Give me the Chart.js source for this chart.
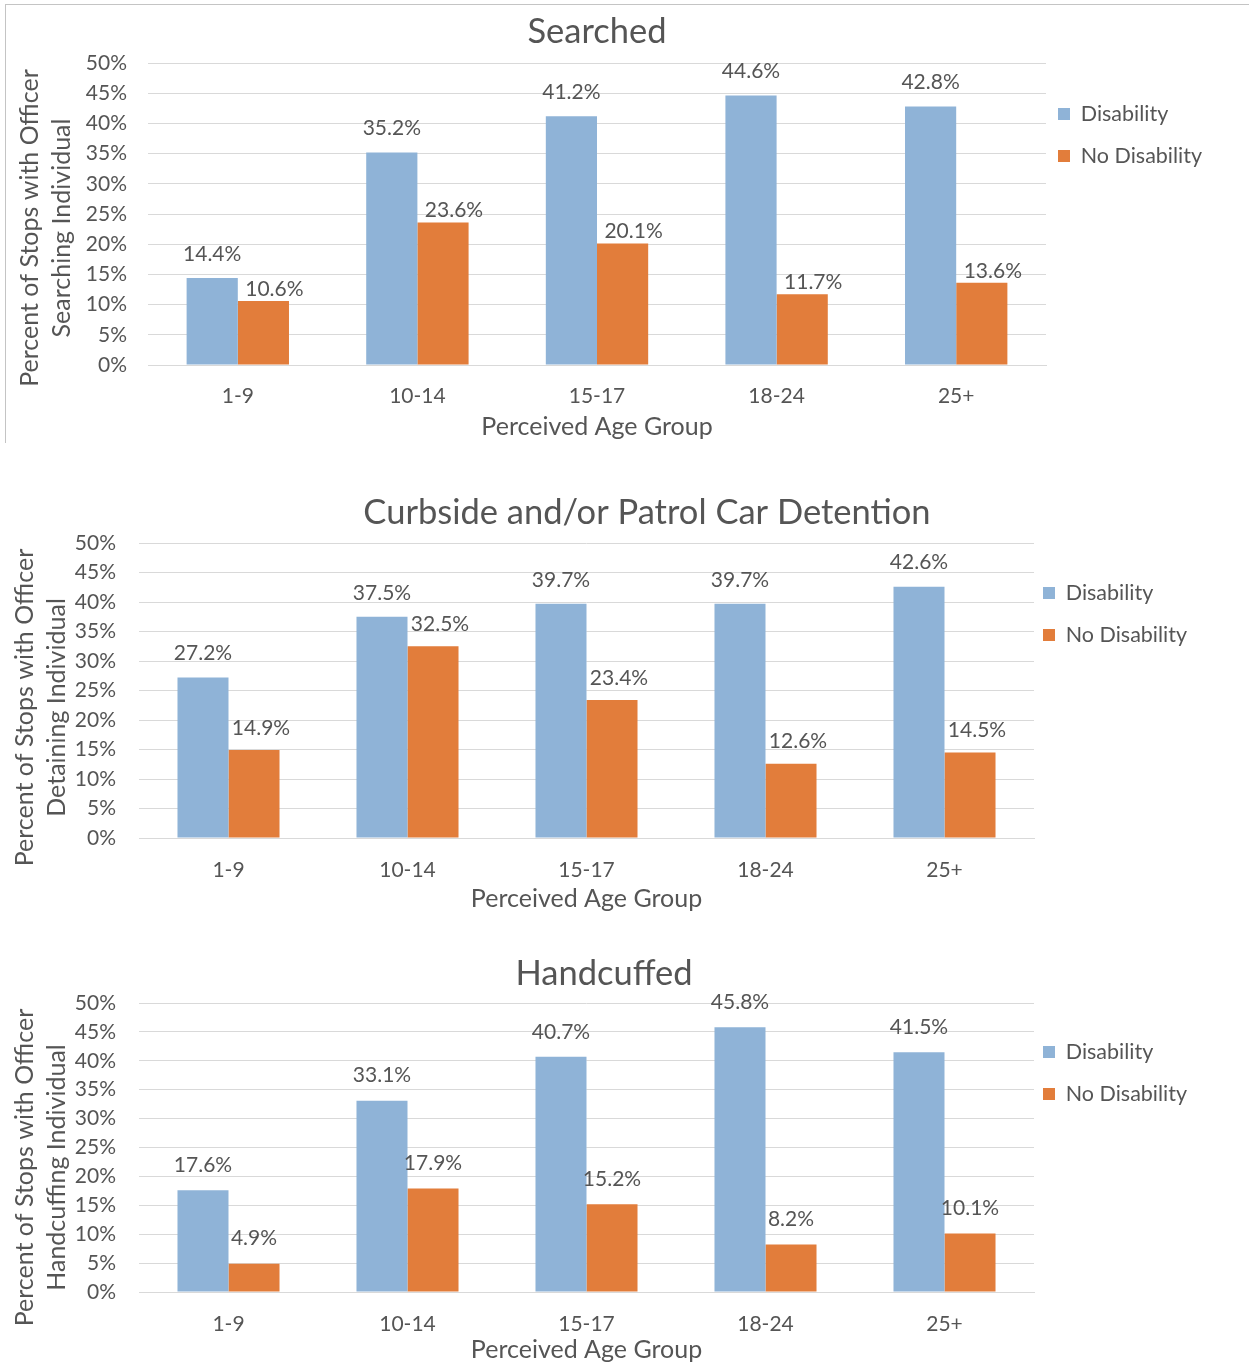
<!DOCTYPE html>
<html>
<head>
<title>Stops by Perceived Age Group and Disability</title>
<style>
    html, body { margin: 0; padding: 0; background: #fff; overflow: hidden; }
    body { width: 1249px; height: 1364px; position: relative; }
    .chartBox { position: absolute; }
    #box1 { left: 5px; top: 4px; border-top: 1px solid #c4c4c4; border-left: 1px solid #c4c4c4; }
    #box2 { left: 0; top: 460px; }
    #box3 { left: 0; top: 920px; }
    canvas { display: block; }
</style>
<script src="https://cdn.jsdelivr.net/npm/chart.js"></script>
<script>
    // values
    const ageGroups = ["1-9", "10-14", "15-17", "18-24", "25+"];
    const seriesNames = ["Disability", "No Disability"];

    const searchedDisability = [14.4, 35.2, 41.2, 44.6, 42.8];
    const searchedNoDisability = [10.6, 23.6, 20.1, 11.7, 13.6];

    const detainedDisability = [27.2, 37.5, 39.7, 39.7, 42.6];
    const detainedNoDisability = [14.9, 32.5, 23.4, 12.6, 14.5];

    const handcuffedDisability = [17.6, 33.1, 40.7, 45.8, 41.5];
    const handcuffedNoDisability = [4.9, 17.9, 15.2, 8.2, 10.1];

    const yMin = 0;
    const yMax = 50;
    const yStep = 5;

    const BLUE = "#8fb3d7";
    const ORANGE = "#e27d3b";
    const TEXT = "#555555";
    const GRID = "#d9d9d9";

    Chart.defaults.font.family = "Lato, 'Open Sans', sans-serif";
    Chart.defaults.color = TEXT;

    // draws the "14.4%" style labels above each bar
    const barValueLabels = {
        id: "barValueLabels",
        afterDatasetsDraw(chart, args, opts) {
            const ctx = chart.ctx;
            ctx.save();
            ctx.font = opts.size + "px Lato, 'Open Sans', sans-serif";
            ctx.fillStyle = TEXT;
            ctx.textAlign = "center";
            ctx.textBaseline = "middle";
            chart.data.datasets.forEach((ds, di) => {
                chart.getDatasetMeta(di).data.forEach((bar, i) => {
                    ctx.fillText(ds.data[i].toFixed(1) + "%", bar.x + opts.dx[di], bar.y - opts.dy[di]);
                });
            });
            ctx.restore();
        }
    };

    // small shifts of the title, legend and y-axis title after layout
    const nudgeBlocks = {
        id: "nudgeBlocks",
        afterLayout(chart, args, opts) {
            const t = chart.titleBlock;
            if (t) { t.left += opts.titleDx; t.right += opts.titleDx; }
            const lg = chart.legend;
            if (lg) {
                lg.left += opts.legendDx; lg.right += opts.legendDx;
                lg.top += opts.legendDy; lg.bottom += opts.legendDy;
            }
            const ys = chart.scales.y;
            if (ys && !ys._titleShifted) {
                const orig = ys.drawTitle;
                ys.drawTitle = function () {
                    this.ctx.save();
                    this.ctx.translate(0, opts.yTitleDy);
                    orig.call(this);
                    this.ctx.restore();
                };
                ys._titleShifted = true;
            }
        }
    };

    function makeChart(id, title, yTitle, dis, noDis, look) {
        const canvas = document.getElementById(id);
        canvas.width = look.w;
        canvas.height = look.h;

        const titleSize = 34.5, titleLH = titleSize * 1.2;
        const tickSize = 21;
        const axisTitleSize = 25;
        const legendSize = 21.5, legendPad = 20.5;
        const plotCenter = (look.plotL + look.plotR) / 2;
        const titlePadTop = look.titleY - titleLH / 2;

        const cfg = {
            type: "bar",
            data: {
                labels: ageGroups,
                datasets: [
                    { label: seriesNames[0], data: dis, backgroundColor: BLUE },
                    { label: seriesNames[1], data: noDis, backgroundColor: ORANGE }
                ]
            },
            options: {
                responsive: false,
                animation: false,
                layout: { padding: { left: 0, top: 0, bottom: 0, right: 150 } },
                datasets: { bar: { categoryPercentage: 0.57, barPercentage: 1.0 } },
                scales: {
                    x: {
                        grid: { display: false },
                        border: { display: true, color: GRID },
                        ticks: { font: { size: tickSize }, padding: look.xTickY - look.plotB - tickSize * 0.6 - 7 },
                        title: {
                            display: true, text: "Perceived Age Group",
                            font: { size: axisTitleSize },
                            padding: { top: 0, bottom: (look.h - look.xTitleY) - axisTitleSize * 0.6 }
                        },
                        afterFit: s => { s.height = look.h - look.plotB; }
                    },
                    y: {
                        min: yMin, max: yMax,
                        ticks: {
                            stepSize: yStep,
                            font: { size: tickSize },
                            padding: look.plotL - look.tickEndX,
                            callback: v => v + "%"
                        },
                        grid: { color: GRID, drawTicks: false },
                        border: { display: false },
                        title: {
                            display: true, text: yTitle,
                            font: { size: axisTitleSize, lineHeight: 32 / axisTitleSize },
                            padding: { top: look.yTitleX - 16, bottom: 0 }
                        },
                        afterFit: s => { s.width = look.plotL; }
                    }
                },
                plugins: {
                    title: {
                        display: true, text: title, fullSize: false,
                        font: { size: titleSize, weight: "normal" },
                        color: TEXT,
                        padding: { top: titlePadTop, bottom: look.plotT - titleLH - titlePadTop }
                    },
                    legend: {
                        position: "right", align: "start",
                        labels: {
                            boxWidth: 12, boxHeight: 12, padding: legendPad,
                            font: { size: legendSize }, color: TEXT
                        }
                    },
                    tooltip: { enabled: false },
                    barValueLabels: { size: 21, dx: look.labelDx, dy: look.labelDy },
                    nudgeBlocks: {
                        titleDx: look.titleX - plotCenter,
                        legendDx: look.legendBoxX - look.plotR - legendPad,
                        legendDy: look.legendY - (legendPad + legendSize / 2),
                        yTitleDy: look.yTitleDy
                    }
                }
            },
            plugins: [barValueLabels, nudgeBlocks]
        };

        const chart = new Chart(canvas, cfg);
        // pin the right edge of the plot to where it sits in the picture
        const diff = chart.chartArea.right - look.plotR;
        chart.options.layout.padding = { left: 0, top: 0, bottom: 0, right: 150 + diff };
        chart.update();
        return chart;
    }

    function init() {
        makeChart("chart1", "Searched",
            ["Percent of Stops with Officer", "Searching Individual"],
            searchedDisability, searchedNoDisability,
            { w: 1243, h: 438, plotL: 142, plotR: 1040, plotT: 58, plotB: 360,
              titleY: 27, titleX: 591, legendY: 109, legendBoxX: 1052,
              xTickY: 390, xTitleY: 422, yTitleX: 24, tickEndX: 121, yTitleDy: 14,
              labelDx: [0, 11], labelDy: [24, 12] });

        makeChart("chart2", "Curbside and/or Patrol Car Detention",
            ["Percent of Stops with Officer", "Detaining Individual"],
            detainedDisability, detainedNoDisability,
            { w: 1249, h: 455, plotL: 139, plotR: 1034, plotT: 83, plotB: 378,
              titleY: 53, titleX: 647, legendY: 133, legendBoxX: 1043,
              xTickY: 409, xTitleY: 439, yTitleX: 25, tickEndX: 116, yTitleDy: 17,
              labelDx: [0, 7], labelDy: [24, 22] });

        makeChart("chart3", "Handcuffed",
            ["Percent of Stops with Officer", "Handcuffing Individual"],
            handcuffedDisability, handcuffedNoDisability,
            { w: 1249, h: 444, plotL: 139, plotR: 1034, plotT: 83, plotB: 372,
              titleY: 54, titleX: 604, legendY: 132, legendBoxX: 1043,
              xTickY: 403, xTitleY: 430, yTitleX: 25, tickEndX: 116, yTitleDy: 20,
              labelDx: [0, 0], labelDy: [25, 25] });
    }
</script>
</head>
<body onload="init();">
    <div class="chartBox" id="box1"><canvas id="chart1"></canvas></div>
    <div class="chartBox" id="box2"><canvas id="chart2"></canvas></div>
    <div class="chartBox" id="box3"><canvas id="chart3"></canvas></div>
</body>
</html>
